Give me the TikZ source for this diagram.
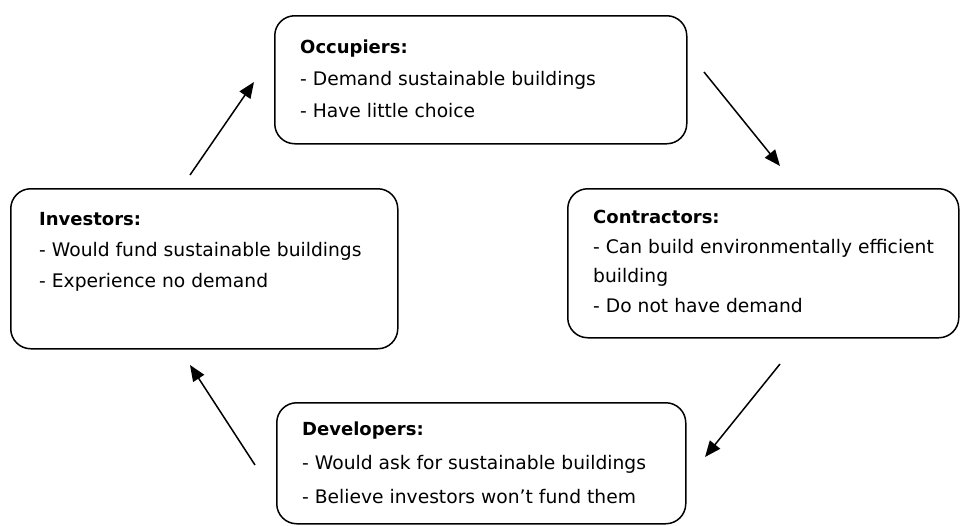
\documentclass[tikz,border=0pt]{standalone}
\usepackage{fontspec}
\setmainfont{DejaVu Sans}
\usetikzlibrary{positioning,arrows.meta}

\newcommand{\head}[1]{{\fontsize{18}{31}\selectfont\bfseries #1}}

\tikzset{
    box/.style={draw, line width=1.5pt, rounded corners=20pt, anchor=north west},
    txt/.style={inner sep=0pt, align=left, font=\fontsize{18.7}{#1}\selectfont},
    txt/.default=31,
    flow/.style={line width=1.5pt, -{Triangle[length=16pt,width=13pt]}}
}

\begin{document}
\begin{tikzpicture}[x=1pt, y=-1pt]
    \useasboundingbox (0,0) rectangle (960,525);

    \node[box, minimum width=412pt, minimum height=128pt] (occ) at (274,15) {};
    \node[box, minimum width=387pt, minimum height=160pt] (inv) at (10,188) {};
    \node[box, minimum width=391pt, minimum height=149pt] (con) at (567,188) {};
    \node[box, minimum width=409pt, minimum height=121pt] (dev) at (276,402) {};

    \node[txt=32, below right=25pt and 26pt of occ.north west] (occtxt) {%
        \head{Occupiers:}\\
        - Demand sustainable buildings\\
        - Have little choice};
    \node[txt, below right=24pt and 29pt of inv.north west] (invtxt) {%
        \head{Investors:}\\
        - Would fund sustainable buildings\\
        - Experience no demand};
    \node[txt=29.7, below right=22pt and 26pt of con.north west] (contxt) {%
        \head{Contractors:}\\
        - Can build environmentally efficient\\
        building\\
        - Do not have demand};
    \node[txt=34, below right=20pt and 26pt of dev.north west] (devtxt) {%
        \head{Developers:}\\
        - Would ask for sustainable buildings\\
        - Believe investors won’t fund them};

    % arrow ends
    \coordinate (inv-out) at (190,175);
    \coordinate (occ-in) at (254,82);
    \coordinate (occ-out) at (704,72);
    \coordinate (con-in) at (780,166);
    \coordinate (con-out) at (780,364);
    \coordinate (dev-in) at (705,457);
    \coordinate (dev-out) at (255,465);
    \coordinate (inv-in) at (190,365);

    \draw[flow] (inv-out) -- (occ-in);
    \draw[flow] (occ-out) -- (con-in);
    \draw[flow] (con-out) -- (dev-in);
    \draw[flow] (dev-out) -- (inv-in);
\end{tikzpicture}
\end{document}
